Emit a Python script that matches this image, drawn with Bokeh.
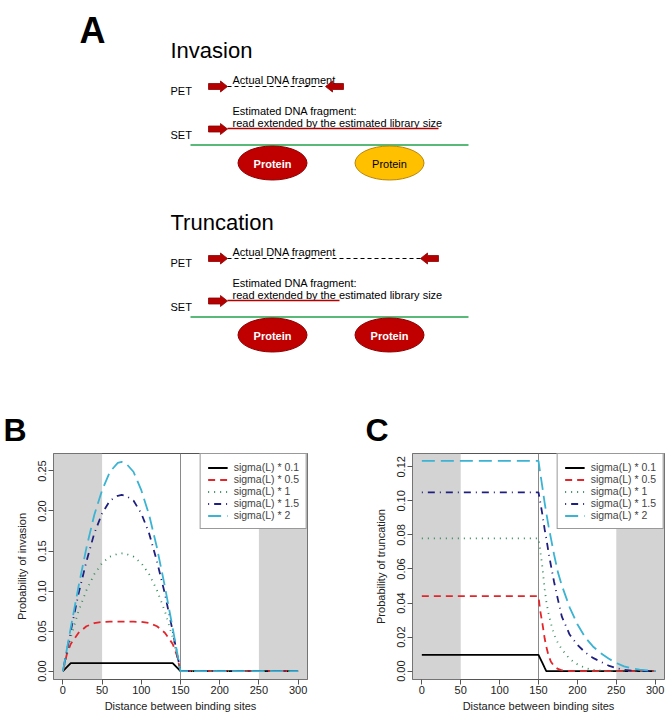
from bokeh.plotting import figure
from bokeh.models import (Range1d, FixedTicker, PrintfTickFormatter, BoxAnnotation,
                          Span, Legend, LegendItem)
from bokeh.layouts import column, row
from bokeh.embed import file_html
from bokeh.resources import INLINE
from bokeh.core.properties import value

FONT = "Liberation Sans"

# ---------------- data ----------------
series_labels = ["sigma(L) * 0.1", "sigma(L) * 0.5", "sigma(L) * 1",
                 "sigma(L) * 1.5", "sigma(L) * 2"]

inv_x = [0, 5, 10, 20, 30, 40, 50, 60, 70, 75, 80, 90, 100, 110, 120, 130,
         140, 145, 150, 200, 250, 300]
inv_s01 = [0, 0.005, 0.010, 0.010, 0.010, 0.010, 0.010, 0.010, 0.010, 0.010, 0.010,
           0.010, 0.010, 0.010, 0.010, 0.010, 0.010, 0.005, 0, 0, 0, 0]
inv_s05 = [0, 0.021, 0.034, 0.048, 0.056, 0.060, 0.0615, 0.0617, 0.0617, 0.0617, 0.0617,
           0.0617, 0.0615, 0.060, 0.056, 0.048, 0.034, 0.021, 0, 0, 0, 0]
inv_s1 = [0, 0.022, 0.042, 0.075, 0.101, 0.121, 0.135, 0.143, 0.1465, 0.147, 0.1465,
          0.143, 0.135, 0.121, 0.101, 0.075, 0.042, 0.022, 0, 0, 0, 0]
inv_s15 = [0, 0.025, 0.050, 0.097, 0.137, 0.172, 0.197, 0.213, 0.219, 0.220, 0.219,
           0.213, 0.197, 0.172, 0.137, 0.097, 0.050, 0.025, 0, 0, 0, 0]
inv_s2 = [0, 0.027, 0.054, 0.106, 0.154, 0.195, 0.226, 0.249, 0.260, 0.2614, 0.260,
          0.249, 0.226, 0.195, 0.154, 0.106, 0.054, 0.027, 0, 0, 0, 0]

trunc_x = [0, 150, 152, 155, 158, 160, 163, 166, 170, 175, 180, 190, 200, 210, 220,
           230, 240, 250, 260, 270, 280, 290, 300]
trunc_s01 = [0.0096, 0.0096, 0.0077, 0.0048, 0.0019, 0, 0, 0, 0, 0, 0, 0, 0, 0, 0,
             0, 0, 0, 0, 0, 0, 0, 0]
trunc_s05 = [0.044, 0.044, 0.036, 0.028, 0.019, 0.0145, 0.009, 0.0055, 0.003, 0.0013,
             0.0005, 0.0001, 0, 0, 0, 0, 0, 0, 0, 0, 0, 0, 0]
trunc_s1 = [0.078, 0.078, 0.072, 0.061, 0.048, 0.041, 0.0335, 0.028, 0.0215, 0.0165,
            0.0128, 0.0072, 0.0040, 0.0019, 0.0008, 0.0003, 0.0001, 0, 0, 0, 0, 0, 0]
trunc_s15 = [0.105, 0.105, 0.100, 0.092, 0.083, 0.078, 0.0695, 0.062, 0.0525, 0.042,
             0.032, 0.0215, 0.0155, 0.011, 0.0078, 0.0055, 0.0033, 0.0017, 0.0008,
             0.0003, 0.0001, 0, 0]
trunc_s2 = [0.1235, 0.1235, 0.117, 0.108, 0.0985, 0.093, 0.085, 0.078, 0.0685, 0.058,
            0.0503, 0.0375, 0.0275, 0.0198, 0.0145, 0.0106, 0.0074, 0.0048, 0.0028,
            0.0017, 0.0009, 0.0004, 0.0001]

x_ticks = [0, 50, 100, 150, 200, 250, 300]
inv_y_ticks = [0.00, 0.05, 0.10, 0.15, 0.20, 0.25]
trunc_y_ticks = [0.00, 0.02, 0.04, 0.06, 0.08, 0.10, 0.12]
shade_limits = [50, 250]
cutoff = 150

panel_letters = ["A", "B", "C"]
section_titles = ["Invasion", "Truncation"]
read_types = ["PET", "SET"]
pet_caption = "Actual DNA fragment"
set_caption = ["Estimated DNA fragment:", "read extended by the estimated library size"]
protein_label = "Protein"

# ---------------- styles ----------------
series_colors = ["#000000", "#E3262B", "#2E8B57", "#1F1F80", "#3BB3D3"]
series_dashes = ["solid", "7 5", "1 5", "1 5 7 5", "13 6"]
DARK_RED = "#B40000"
GREEN = "#22A24C"

TOP_H = 448

# ---------------- panel A (diagram) ----------------
pa = figure(width=668, height=TOP_H, x_range=Range1d(0, 668), y_range=Range1d(TOP_H, 0),
            output_backend="svg", toolbar_location=None, min_border=0,
            x_axis_location=None, y_axis_location=None)
pa.grid.grid_line_color = None
pa.outline_line_color = None


def txt(p, x, y, s, size, bold=False, color="black", align="left", baseline="alphabetic"):
    p.text(x=[x], y=[y], text=[s], text_font=value(FONT), text_font_size=size,
           text_font_style="bold" if bold else "normal", text_color=color,
           text_align=align, text_baseline=baseline)


def arrow(p, x0, x1, yc, direction):
    h = 7
    if direction == "right":
        xs = [x0, x1 - h, x1 - h, x1, x1 - h, x1 - h, x0]
    else:
        xs = [x1, x0 + h, x0 + h, x0, x0 + h, x0 + h, x1]
    ys = [yc - 3, yc - 3, yc - 5.5, yc, yc + 5.5, yc + 3, yc + 3]
    p.patch(xs, ys, fill_color=DARK_RED, line_color="#8E0000", line_width=0.8)


def section(p, top, pet_end, set_end, invasion):
    # top: baseline of the section title
    txt(p, 170, top, section_titles[0 if invasion else 1], "22px")
    pet_y = top + 36
    txt(p, 232, top + 29, pet_caption, "11px")
    txt(p, 170, top + 40, read_types[0], "11px")
    p.line([227, pet_end - 18], [pet_y, pet_y], line_color="black", line_width=1.2,
           line_dash="4 3")
    arrow(p, 208, 227, pet_y, "right")
    arrow(p, pet_end - 18, pet_end, pet_y, "left")
    set_y = top + 78
    txt(p, 232, top + 60, set_caption[0], "11px")
    txt(p, 232, top + 72.7, set_caption[1], "11px")
    txt(p, 170, top + 84, read_types[1], "11px")
    p.line([227, set_end], [set_y, set_y], line_color=DARK_RED, line_width=1.3)
    arrow(p, 208, 227, set_y + 0.5, "right")
    g_y = top + 94.5
    p.line([190, 468], [g_y, g_y], line_color=GREEN, line_width=1.3)
    e_y = top + 112.5
    p.ellipse(x=[272], y=[e_y], width=69, height=34, fill_color="#C00000",
              line_color="#8E0000", line_width=1)
    txt(p, 272, e_y + 0.5, protein_label, "11px", bold=True, color="white",
        align="center", baseline="middle")
    if invasion:
        p.ellipse(x=[389], y=[e_y], width=69, height=34, fill_color="#FFC000",
                  line_color="#B8860B", line_width=1)
        txt(p, 389, e_y + 0.5, protein_label, "11px", color="black",
            align="center", baseline="middle")
    else:
        p.ellipse(x=[389], y=[e_y], width=69, height=34, fill_color="#C00000",
                  line_color="#8E0000", line_width=1)
        txt(p, 389, e_y + 0.5, protein_label, "11px", bold=True, color="white",
            align="center", baseline="middle")


txt(pa, 79, 30, panel_letters[0], "36px", bold=True)
section(pa, 50, 343, 438, True)
section(pa, 222, 438, 339, False)
txt(pa, 3, 429, panel_letters[1], "32px", bold=True)
txt(pa, 365, 429, panel_letters[2], "32px", bold=True)


# ---------------- panels B and C ----------------
def make_panel(xs, series, y_range, y_ticks, ylabel, width, bl, br):
    p = figure(width=width, height=720 - TOP_H, x_range=Range1d(-12, 312),
               y_range=Range1d(*y_range),
               output_backend="svg", toolbar_location=None,
               min_border_left=bl, min_border_right=br, min_border_top=453 - TOP_H,
               min_border_bottom=41)
    p.grid.grid_line_color = None
    p.add_layout(BoxAnnotation(right=shade_limits[0], fill_color="#D3D3D3", fill_alpha=1,
                               line_color=None, level="underlay"))
    p.add_layout(BoxAnnotation(left=shade_limits[1], fill_color="#D3D3D3", fill_alpha=1,
                               line_color=None, level="underlay"))
    p.add_layout(Span(location=cutoff, dimension="height", line_color="#8A8A8A",
                      line_width=1, level="underlay"))
    items = []
    for ys, lab, col, dash in zip(series, series_labels, series_colors, series_dashes):
        r = p.line(xs, ys, line_color=col, line_width=1.8, line_dash=dash)
        items.append(LegendItem(label=lab, renderers=[r]))
    leg = Legend(items=items, location="top_right", margin=0, padding=7, spacing=0,
                 label_height=11, glyph_height=11, glyph_width=20, label_standoff=6,
                 label_text_font=FONT, label_text_font_size="10.5px",
                 border_line_color="#333333", border_line_width=1,
                 background_fill_color="white", background_fill_alpha=1)
    p.add_layout(leg)
    p.xaxis.ticker = FixedTicker(ticks=x_ticks)
    p.yaxis.ticker = FixedTicker(ticks=y_ticks)
    p.yaxis.formatter = PrintfTickFormatter(format="%.2f")
    p.yaxis.major_label_orientation = "vertical"
    p.axis.axis_line_color = None
    p.axis.major_tick_out = 5
    p.axis.major_tick_in = 0
    p.axis.minor_tick_line_color = None
    p.axis.major_tick_line_color = "#555555"
    p.axis.major_label_text_font = FONT
    p.axis.major_label_text_font_size = "11px"
    p.axis.major_label_text_color = "#222222"
    p.axis.axis_label_text_font = FONT
    p.axis.axis_label_text_font_size = "11px"
    p.axis.axis_label_text_font_style = "normal"
    p.axis.axis_label_text_color = "#222222"
    p.xaxis.axis_label = "Distance between binding sites"
    p.yaxis.axis_label = ylabel
    p.xaxis.major_label_standoff = 1
    p.xaxis.axis_label_standoff = 3
    p.yaxis.major_label_standoff = 2
    p.yaxis.axis_label_standoff = 8
    p.outline_line_color = "#555555"
    p.outline_line_width = 1
    return p


pb = make_panel(inv_x, [inv_s01, inv_s05, inv_s1, inv_s15, inv_s2],
                (-0.01046, 0.2718), inv_y_ticks, "Probability of invasion", 334, 53, 27)
pc = make_panel(trunc_x, [trunc_s01, trunc_s05, trunc_s1, trunc_s15, trunc_s2],
                (-0.0049, 0.1278), trunc_y_ticks, "Probability of truncation", 334, 78, 4)

layout = column(pa, row(pb, pc))
open("out.html", "w").write(file_html(layout, INLINE))
